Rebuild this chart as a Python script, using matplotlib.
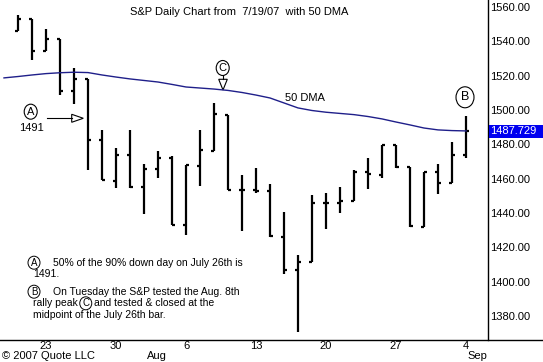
import numpy as np
import matplotlib
matplotlib.use("Agg")
import matplotlib.pyplot as plt
from matplotlib.patches import Ellipse, Polygon, Rectangle
from matplotlib.lines import Line2D

plt.rcParams['font.family'] = ['Liberation Sans', 'DejaVu Sans']

# S&P 500 daily bars, 7/19/07 .. 9/4/07
dates = ['7/19', '7/20', '7/23', '7/24', '7/25', '7/26', '7/27', '7/30', '7/31',
         '8/1', '8/2', '8/3', '8/6', '8/7', '8/8', '8/9', '8/10', '8/13', '8/14',
         '8/15', '8/16', '8/17', '8/20', '8/21', '8/22', '8/23', '8/24', '8/27',
         '8/28', '8/29', '8/30', '8/31', '9/4']
opens = [1546.1, 1553.2, 1534.1, 1541.6, 1511.0, 1518.1, 1482.4, 1458.9, 1473.9,
         1455.2, 1465.5, 1472.2, 1433.0, 1467.6, 1476.2, 1497.2, 1453.1, 1453.4,
         1452.9, 1426.2, 1406.6, 1411.3, 1445.9, 1445.6, 1447.0, 1464.1, 1462.3,
         1479.4, 1466.7, 1432.0, 1463.7, 1457.6, 1474.0]
highs = [1555.2, 1553.2, 1547.2, 1541.6, 1524.3, 1518.1, 1488.5, 1477.9, 1488.3,
         1468.4, 1476.4, 1473.2, 1467.7, 1488.3, 1503.9, 1497.2, 1462.0, 1466.3,
         1456.7, 1440.8, 1415.5, 1450.3, 1451.8, 1455.3, 1464.9, 1472.1, 1479.4,
         1479.4, 1466.7, 1463.8, 1468.4, 1481.5, 1496.4]
lows = [1546.1, 1529.2, 1534.1, 1508.6, 1503.7, 1465.3, 1459.0, 1454.3, 1454.3,
        1439.6, 1460.6, 1432.8, 1427.4, 1455.8, 1476.2, 1453.1, 1429.7, 1451.5,
        1426.2, 1404.4, 1370.6, 1411.3, 1430.5, 1439.8, 1447.0, 1453.9, 1460.5,
        1466.0, 1432.0, 1432.0, 1451.3, 1457.6, 1472.2]
closes = [1553.1, 1534.1, 1541.6, 1511.0, 1518.1, 1482.7, 1459.0, 1473.9, 1455.3,
          1465.8, 1472.2, 1433.1, 1467.7, 1476.7, 1497.5, 1453.1, 1453.6, 1452.9,
          1426.5, 1406.7, 1411.3, 1445.9, 1445.6, 1447.1, 1464.1, 1462.5, 1479.4,
          1466.8, 1432.4, 1463.8, 1457.6, 1474.0, 1487.729]

# 50 day moving average, starting one day before the first bar (7/18)
dma = [1518.7, 1519.5, 1520.4, 1521.2, 1521.7, 1522.0, 1521.8, 1520.4, 1519.2,
       1518.1, 1517.2, 1516.3, 1514.9, 1513.4, 1512.8, 1512.2, 1511.4, 1510.2,
       1508.7, 1507.0, 1504.1, 1501.2, 1499.7, 1498.7, 1498.0, 1497.3, 1496.2,
       1494.8, 1493.0, 1491.3, 1489.5, 1488.4, 1488.0, 1487.8]

day_ticks = [2, 7, 12, 17, 22, 27, 32]
day_labels = ['23', '30', '6', '13', '20', '27', '4']
month_ticks = [9.2, 32.1]
month_labels = ['Aug', 'Sep']
y_ticks = [1380, 1400, 1420, 1440, 1460, 1480, 1500, 1520, 1540, 1560]

W, H = 543, 362
fig = plt.figure(figsize=(W / 100, H / 100), dpi=100)
ax = fig.add_axes([0, 22 / H, 488 / W, 340 / H])

# pixel -> data helper for annotation placement
def px(x, y):
    return (x - 18) / 14, 1564.08 - y / 1.7167

idx = np.arange(len(dates))
ax.vlines(idx, lows, highs, color='black', lw=1.6)
ax.hlines(opens, idx - 0.24, idx, color='black', lw=1.6)
ax.hlines(closes, idx, idx + 0.24, color='black', lw=1.6)

ax.plot(np.arange(-1, len(dates)), dma, color='#1f1f8a', lw=1.0)

ax.set_xlim(-18 / 14, 470 / 14)
ax.set_ylim(1366.0, 1564.08)

for s in ['left', 'top', 'bottom']:
    ax.spines[s].set_visible(False)
ax.spines['right'].set_linewidth(1.0)
fig.add_artist(Line2D([0, 1], [22 / H, 22 / H], color='black', lw=1.0))

ax.yaxis.tick_right()
ax.set_yticks(y_ticks)
ax.set_yticklabels(['%.2f' % v for v in y_ticks])
ax.tick_params(axis='y', length=0, pad=1.5, labelsize=8)
ax.set_xticks(day_ticks)
ax.set_xticklabels(day_labels)
ax.tick_params(axis='x', length=0, pad=1, labelsize=8)
for t, lab in zip(month_ticks, month_labels):
    ax.text(t, -16 / 340, lab, transform=ax.get_xaxis_transform(), ha='left',
            va='center', fontsize=8, clip_on=False)

# last price box, running to the right edge
_, y_last = ax.transData.transform((0, closes[-1]))
fig.add_artist(Rectangle((489 / W, (y_last - 6.5) / H), 54 / W, 13 / H,
                         transform=fig.transFigure, fc='#0000f0', ec='none'))
fig.text(490 / W, y_last / H, '%.3f' % closes[-1], ha='left', va='center',
         fontsize=8, color='white')

# chart texts
ax.text(*px(130, 12), 'S&P Daily Chart from  7/19/07  with 50 DMA', fontsize=8,
        ha='left', va='center')
ax.text(*px(285, 98), '50 DMA', fontsize=8, ha='left', va='center')

def circle(xc, yc, w, h, letter, fs=8):
    cx, cy = px(xc, yc)
    ax.add_patch(Ellipse((cx, cy), w / 14, h / 1.7167, fc='white', ec='black',
                         lw=0.8, clip_on=False, zorder=5))
    ax.text(cx, cy, letter, ha='center', va='center', fontsize=fs, zorder=6)

# A marker with arrow toward the bars
circle(30.7, 111.7, 13, 15, 'A')
ax.text(*px(31.7, 128.3), '1491', fontsize=8, ha='center', va='center')
ax.plot(*zip(px(47, 118.3), px(71.7, 118.3)), color='black', lw=0.8)
ax.add_patch(Polygon([px(71.7, 114.3), px(83.3, 118.3), px(71.7, 122.3)],
                     closed=True, fc='white', ec='black', lw=0.8))

# C marker pointing down to the 50 DMA
circle(222.7, 68, 13, 15, 'C')
ax.plot(*zip(px(223, 75.5), px(223, 79.3)), color='black', lw=0.8)
ax.add_patch(Polygon([px(218.7, 79.3), px(227.3, 79.3), px(223, 90)],
                     closed=True, fc='white', ec='black', lw=0.8))

# B marker above the last bar
circle(465, 97.3, 18, 21, 'B', fs=9)

# notes block (figure pixel coords)
renderer = fig.canvas.get_renderer()

def ftext(x, y, s, size=7.5):
    t = fig.text(x / W, 1 - y / H, s, va='center', ha='left', fontsize=size)
    return t.get_window_extent(renderer).x1

def fcircle(xc, yc, letter):
    ax.add_patch(Ellipse((xc / W, 1 - yc / H), 12 / W, 13 / H, fc='none',
                         ec='black', lw=0.7, transform=fig.transFigure, clip_on=False))
    fig.text(xc / W, 1 - yc / H, letter, ha='center', va='center', fontsize=7)

fcircle(34, 262.7, 'A')
ftext(53, 262.7, '50% of the 90% down day on July 26th is')
ftext(33, 274, '1491.')
fcircle(34, 291.7, 'B')
ftext(53, 291.7, 'On Tuesday the S&P tested the Aug. 8th')
x_end = ftext(33, 303.3, 'rally peak')
fcircle(x_end + 8, 303.3, 'C')
ftext(x_end + 16, 303.3, 'and tested & closed at the')
ftext(33, 315.5, 'midpoint of the July 26th bar.')

fig.text(2 / W, 1 - 356 / H, '\u00a9 2007 Quote LLC', fontsize=8, ha='left', va='center')

fig.savefig('out.png', dpi=100)
